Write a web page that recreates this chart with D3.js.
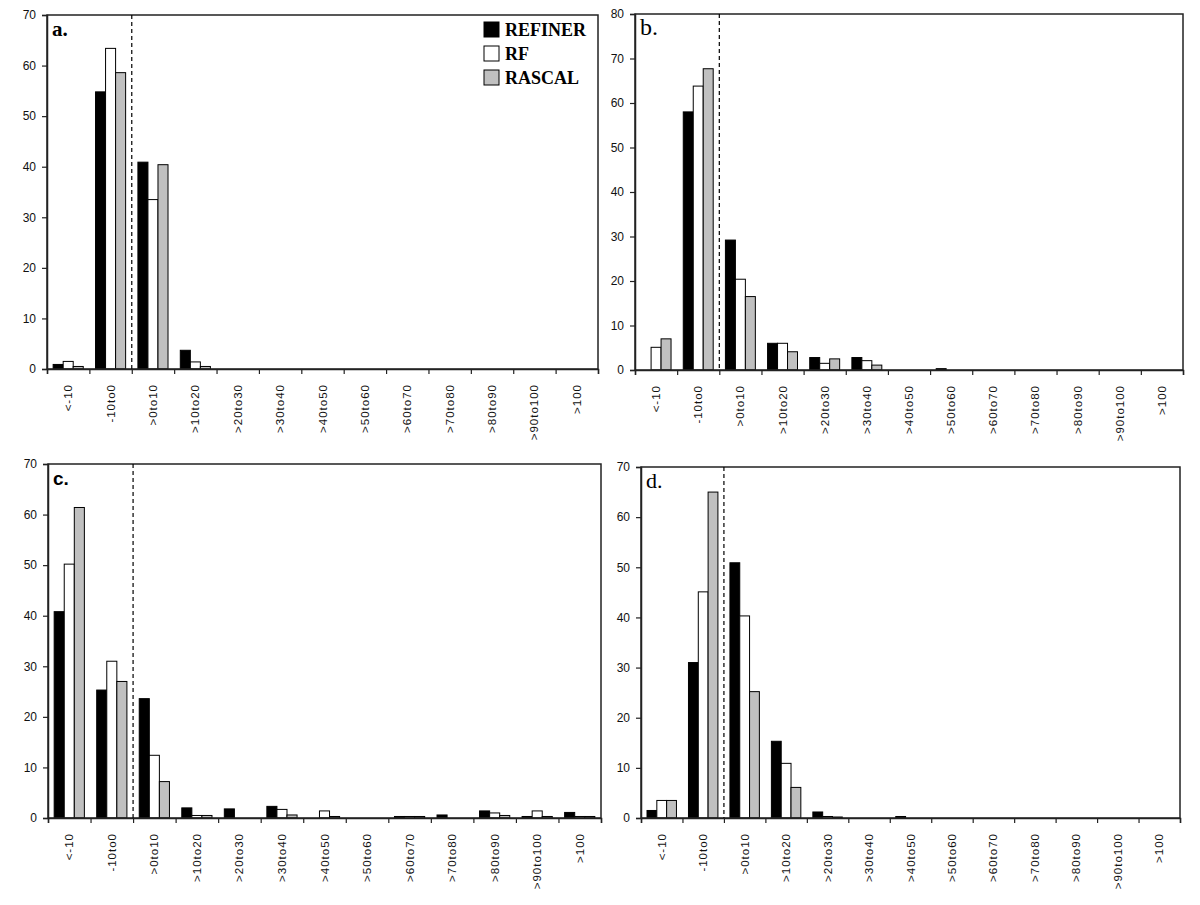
<!DOCTYPE html>
<html>
<head>
<meta charset="utf-8">
<script src="https://cdn.jsdelivr.net/npm/d3@7/dist/d3.min.js"></script>
<style>
  body { margin: 0; background: #fff; }
  svg { display: block; }
</style>
</head>
<body>
<div id="chart"></div>
<script>
// bins of the histogram, same in all four panels
var categories = ["<-10", "-10to0", ">0to10", ">10to20", ">20to30", ">30to40", ">40to50",
                  ">50to60", ">60to70", ">70to80", ">80to90", ">90to100", ">100"];
var seriesNames = ["REFINER", "RF", "RASCAL"];

// panel a
var refinerA = [0.9, 54.8, 40.9, 3.7, 0, 0, 0, 0, 0, 0, 0, 0, 0];
var rfA      = [1.5, 63.4, 33.5, 1.4, 0, 0, 0, 0, 0, 0, 0, 0, 0];
var rascalA  = [0.5, 58.6, 40.4, 0.5, 0, 0, 0, 0, 0, 0, 0, 0, 0];
// panel b
var refinerB = [0, 58.0, 29.2, 6.0, 2.8, 2.8, 0, 0.3, 0, 0, 0, 0, 0];
var rfB      = [5.1, 63.8, 20.4, 6.0, 1.5, 2.1, 0, 0, 0, 0, 0, 0, 0];
var rascalB  = [7.0, 67.7, 16.5, 4.1, 2.5, 1.1, 0, 0, 0, 0, 0, 0, 0];
// panel c
var refinerC = [40.8, 25.3, 23.6, 2.0, 1.8, 2.3, 0, 0, 0.3, 0.6, 1.4, 0.3, 1.1];
var rfC      = [50.2, 31.0, 12.4, 0.5, 0, 1.7, 1.4, 0, 0.3, 0, 1.0, 1.4, 0.3];
var rascalC  = [61.4, 27.0, 7.2, 0.5, 0, 0.6, 0.3, 0, 0.3, 0, 0.5, 0.3, 0.3];
// panel d
var refinerD = [1.5, 31.0, 50.9, 15.3, 1.2, 0, 0.3, 0, 0, 0, 0, 0, 0];
var rfD      = [3.5, 45.1, 40.3, 10.9, 0.3, 0, 0, 0, 0, 0, 0, 0, 0];
var rascalD  = [3.5, 65.0, 25.2, 6.1, 0.2, 0, 0, 0, 0, 0, 0, 0, 0];

var yMaxA = 70, yMaxB = 80, yMaxC = 70, yMaxD = 70;

var fills = ["#000000", "#ffffff", "#c0c0c0"];

var panels = [
  {label: "a.", labelFont: "bold 21px 'Liberation Serif'", series: [refinerA, rfA, rascalA], ymax: yMaxA,
   left: 47, top: 15, right: 598, bottom: 369, legend: true},
  {label: "b.", labelFont: "24px 'Liberation Serif'", series: [refinerB, rfB, rascalB], ymax: yMaxB,
   left: 635, top: 14, right: 1183, bottom: 370},
  {label: "c.", labelFont: "bold 19px 'Liberation Sans'", series: [refinerC, rfC, rascalC], ymax: yMaxC,
   left: 48, top: 464, right: 601, bottom: 818},
  {label: "d.", labelFont: "22px 'Liberation Serif'", series: [refinerD, rfD, rascalD], ymax: yMaxD,
   left: 641, top: 467, right: 1180, bottom: 818}
];

var svg = d3.select("#chart")
            .append("svg")
            .attr("width", 1200)
            .attr("height", 905);

panels.forEach(function(p){
  var g = svg.append("g");

  var x0 = d3.scaleBand()
             .domain(categories)
             .range([p.left, p.right])
             .paddingInner(0.29)
             .paddingOuter(0.145);
  var x1 = d3.scaleBand()
             .domain(d3.range(3))
             .range([0, x0.bandwidth()]);
  var y = d3.scaleLinear()
            .domain([0, p.ymax])
            .range([p.bottom, p.top]);
  var edges = d3.scaleLinear()
                .domain([0, categories.length])
                .range([p.left, p.right]);

  // bars (zero bins are not drawn)
  p.series.forEach(function(vals, s){
    var rows = vals.map(function(v, i){ return {cat: categories[i], v: v}; })
                   .filter(function(d){ return d.v > 0; });
    g.selectAll(".bar" + s)
     .data(rows)
     .enter()
     .append("rect")
     .attr("class", "bar" + s)
     .attr("x", function(d){ return x0(d.cat) + x1(s); })
     .attr("y", function(d){ return y(d.v); })
     .attr("width", x1.bandwidth())
     .attr("height", function(d){ return y(0) - y(d.v); })
     .attr("fill", fills[s])
     .attr("stroke", "#000")
     .attr("stroke-width", 1);
  });

  // frame
  g.append("rect")
   .attr("x", p.left)
   .attr("y", p.top)
   .attr("width", p.right - p.left)
   .attr("height", p.bottom - p.top)
   .attr("fill", "none")
   .attr("stroke", "#222")
   .attr("stroke-width", 1.5);

  // dashed divider between -10to0 and >0to10
  g.append("line")
   .attr("x1", edges(2)).attr("x2", edges(2))
   .attr("y1", p.top).attr("y2", p.bottom)
   .attr("stroke", "#000")
   .attr("stroke-width", 1.2)
   .attr("stroke-dasharray", "4,3");

  // y axis
  var yAxis = g.append("g")
               .attr("transform", "translate(" + p.left + ",0)")
               .call(d3.axisLeft(y).tickValues(d3.range(0, p.ymax + 1, 10)).tickSize(5).tickPadding(6));
  yAxis.select(".domain").attr("stroke", "#222").attr("stroke-width", 1.5);
  yAxis.selectAll(".tick line").attr("stroke", "#222").attr("stroke-width", 1.2);
  yAxis.selectAll("text")
       .attr("font-family", "'Liberation Sans', Arial, sans-serif")
       .attr("font-size", "12px")
       .attr("fill", "#111");

  // x axis ticks at bin edges
  var xAxis = g.append("g")
               .attr("transform", "translate(0," + p.bottom + ")")
               .call(d3.axisBottom(edges).tickValues(d3.range(0, categories.length + 1)).tickSize(5).tickFormat(""));
  xAxis.select(".domain").attr("stroke", "#222").attr("stroke-width", 1.5);
  xAxis.selectAll(".tick line").attr("stroke", "#222").attr("stroke-width", 1.2);

  // rotated bin labels
  g.selectAll(".xlab")
   .data(categories)
   .enter()
   .append("text")
   .attr("class", "xlab")
   .attr("transform", function(d){
     return "translate(" + (x0(d) + x0.bandwidth() / 2 + 4) + "," + (p.bottom + 15) + ") rotate(-90)";
   })
   .attr("text-anchor", "end")
   .attr("font-family", "'Liberation Sans', Arial, sans-serif")
   .attr("font-size", "11.5px")
   .attr("letter-spacing", "1px")
   .attr("fill", "#111")
   .text(function(d){ return d; });

  // panel letter
  g.append("text")
   .attr("x", p.left + 5)
   .attr("y", p.top + 21)
   .style("font", p.labelFont)
   .attr("fill", "#000")
   .text(p.label);

  if (p.legend) {
    var lg = g.append("g").attr("transform", "translate(484,22)");
    seriesNames.forEach(function(name, s){
      lg.append("rect")
        .attr("x", 0)
        .attr("y", s * 24)
        .attr("width", 15)
        .attr("height", 15)
        .attr("fill", fills[s])
        .attr("stroke", "#000")
        .attr("stroke-width", 1);
      lg.append("text")
        .attr("x", 21)
        .attr("y", s * 24 + 14)
        .attr("font-family", "'Liberation Serif', 'Times New Roman', serif")
        .attr("font-weight", "bold")
        .attr("font-size", "18px")
        .attr("fill", "#000")
        .text(name);
    });
  }
});
</script>
</body>
</html>
